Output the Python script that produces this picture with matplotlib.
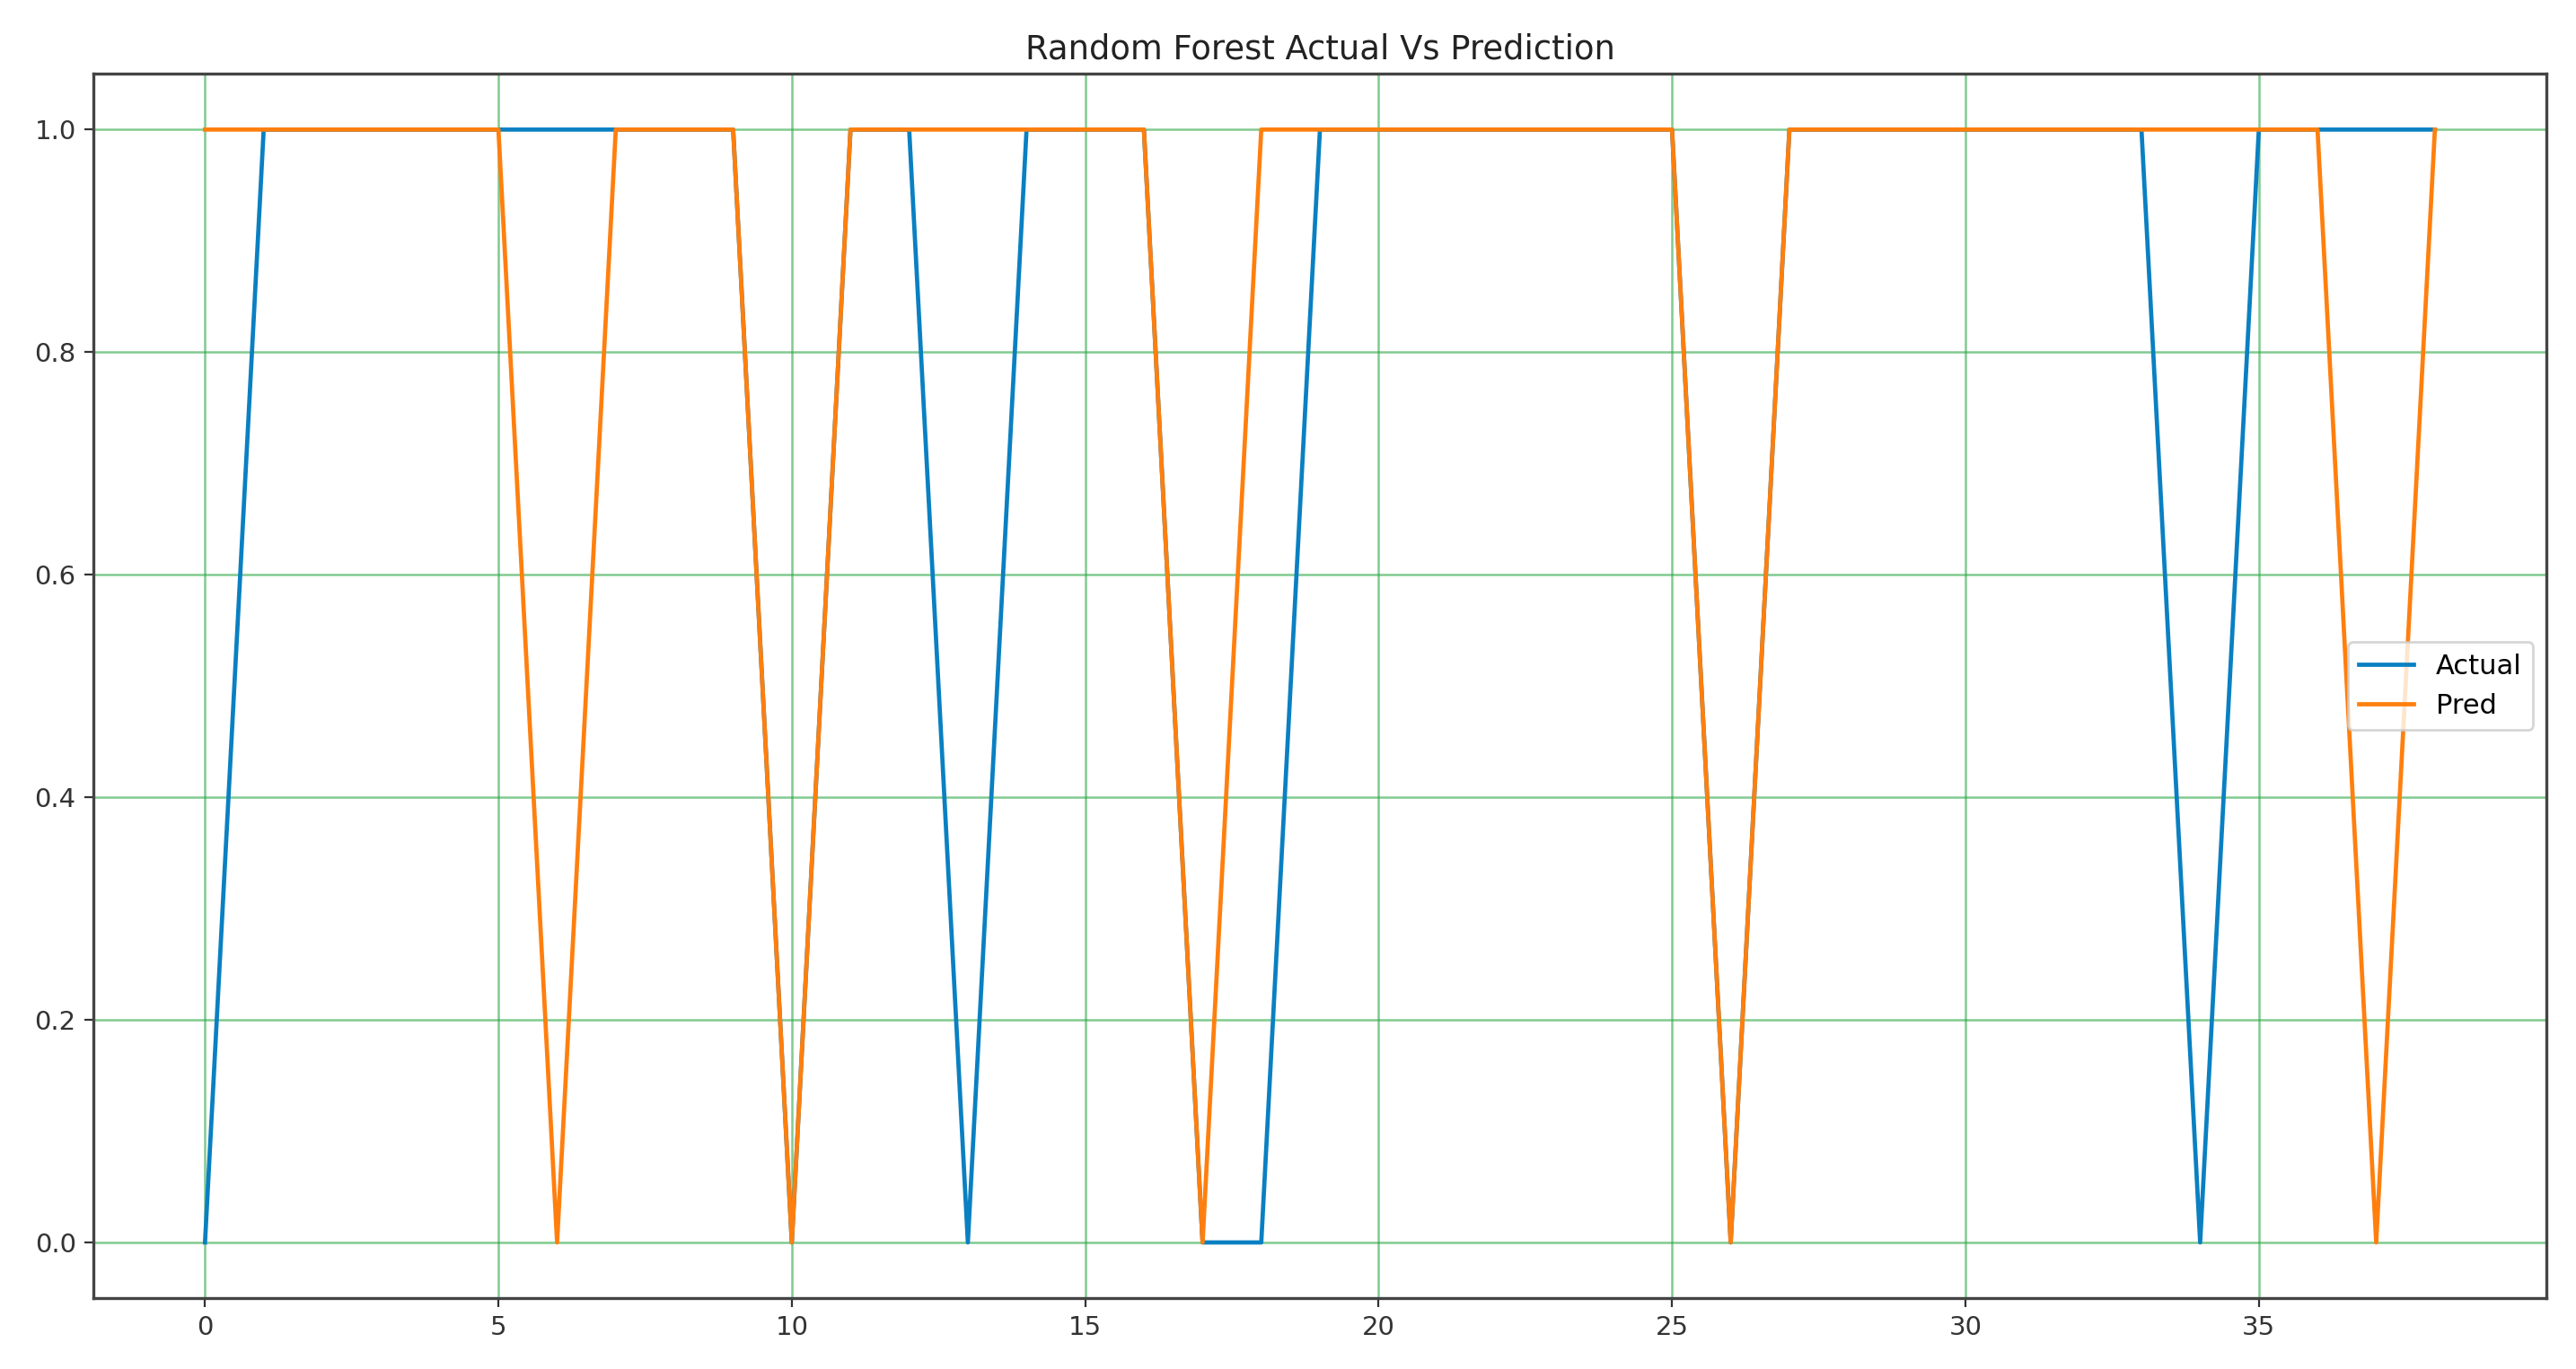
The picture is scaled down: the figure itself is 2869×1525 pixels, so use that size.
import matplotlib
matplotlib.use('Agg')
import matplotlib.pyplot as plt

# test set labels vs random forest predictions
idx = list(range(39))
actual = [0, 1, 1, 1, 1, 1, 1, 1, 1, 1,
          0, 1, 1, 0, 1, 1, 1, 0, 0, 1,
          1, 1, 1, 1, 1, 1, 0, 1, 1, 1,
          1, 1, 1, 1, 0, 1, 1, 1, 1]
pred = [1, 1, 1, 1, 1, 1, 0, 1, 1, 1,
        0, 1, 1, 1, 1, 1, 1, 0, 1, 1,
        1, 1, 1, 1, 1, 1, 0, 1, 1, 1,
        1, 1, 1, 1, 1, 1, 1, 0, 1]

fig = plt.figure(figsize=(14.345, 7.625), dpi=200)
ax = fig.add_axes([0.0363, 0.0518, 0.9522, 0.8942])

ax.plot(idx, actual, color='#0a80c2', lw=1.7, label='Actual')
ax.plot(idx, pred, color='#ff7f0e', lw=1.7, label='Pred')

ax.grid(color='#2ca845', alpha=0.6, lw=0.9)
ax.set_title('Random Forest Actual Vs Prediction', fontsize=13.3, color='#222222')
ax.tick_params(labelsize=10.5, colors='#333333')
for s in ax.spines.values():
    s.set_color('#444444')
    s.set_linewidth(1.2)
ax.legend(loc='center right', fontsize=11)

fig.savefig('out.png', dpi=200)
